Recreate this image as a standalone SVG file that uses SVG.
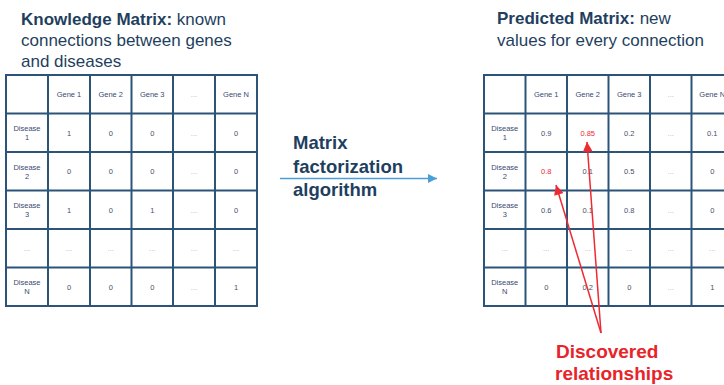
<svg xmlns="http://www.w3.org/2000/svg" width="724" height="385" viewBox="0 0 724 385">
  <style>
    .title { font-family: "Liberation Sans", Arial, sans-serif; font-size: 17px; fill: #1f3f60; }
    .b { font-weight: bold; }
    .grid { fill: #ffffff; stroke: #2b5478; stroke-width: 2; }
    .gl { stroke: #2b5478; stroke-width: 2; }
    .cell { font-family: "Liberation Sans", Arial, sans-serif; font-size: 7.5px; fill: #44506a; text-anchor: middle; }
    .hdr { fill: #3a4a72; }
    .dim { fill: #aab3bd; }
    .hot { fill: #ee2a33; }
    .algo { font-family: "Liberation Sans", Arial, sans-serif; font-size: 18.5px; font-weight: bold; fill: #1f3f60; }
    .note { font-family: "Liberation Sans", Arial, sans-serif; font-size: 19px; font-weight: bold; fill: #e8242a; }
    .flow { stroke: #4a9fd6; stroke-width: 1.5; fill: none; }
    .ptr { stroke: #ee2a33; stroke-width: 1.5; fill: none; }
  </style>
  <defs>
    <marker id="blueHead" viewBox="0 0 10 10" refX="10" refY="5" markerWidth="6" markerHeight="6" markerUnits="strokeWidth" orient="auto">
      <path d="M0,0 L10,5 L0,10 Z" fill="#4a9fd6"/>
    </marker>
    <marker id="redHead" viewBox="0 0 10 10" refX="10" refY="5" markerWidth="8" markerHeight="6.5" markerUnits="strokeWidth" orient="auto">
      <path d="M0,0 L10,5 L0,10 Z" fill="#ee2a33"/>
    </marker>
  </defs>

  <!-- Known gene/disease matrix -->
  <g id="knowledge-matrix">
    <text class="title" x="21" y="24.5"><tspan class="b">Knowledge Matrix:</tspan> known</text>
    <text class="title" x="21" y="46">connections between genes</text>
    <text class="title" x="21" y="67">and diseases</text>

    <rect class="grid" x="6" y="75" width="251" height="231"/>
    <g class="gl">
      <line x1="48" y1="75" x2="48" y2="306"/>
      <line x1="90" y1="75" x2="90" y2="306"/>
      <line x1="131.5" y1="75" x2="131.5" y2="306"/>
      <line x1="173" y1="75" x2="173" y2="306"/>
      <line x1="215" y1="75" x2="215" y2="306"/>
      <line x1="6" y1="113.5" x2="257" y2="113.5"/>
      <line x1="6" y1="152" x2="257" y2="152"/>
      <line x1="6" y1="190.5" x2="257" y2="190.5"/>
      <line x1="6" y1="229" x2="257" y2="229"/>
      <line x1="6" y1="267.5" x2="257" y2="267.5"/>
    </g>
    <!-- header row -->
    <text class="cell hdr" x="69" y="97">Gene 1</text>
    <text class="cell hdr" x="110.75" y="97">Gene 2</text>
    <text class="cell hdr" x="152.25" y="97">Gene 3</text>
    <text class="cell dim" x="194" y="97">...</text>
    <text class="cell hdr" x="236" y="97">Gene N</text>
    <!-- row labels -->
    <text class="cell hdr" x="27" y="131">Disease</text><text class="cell hdr" x="27" y="140">1</text>
    <text class="cell hdr" x="27" y="169.5">Disease</text><text class="cell hdr" x="27" y="178.5">2</text>
    <text class="cell hdr" x="27" y="208">Disease</text><text class="cell hdr" x="27" y="217">3</text>
    <text class="cell dim" x="27" y="251">...</text>
    <text class="cell hdr" x="27" y="285">Disease</text><text class="cell hdr" x="27" y="294">N</text>
    <!-- values -->
    <text class="cell" x="69" y="135.5">1</text><text class="cell" x="110.75" y="135.5">0</text><text class="cell" x="152.25" y="135.5">0</text><text class="cell dim" x="194" y="135.5">...</text><text class="cell" x="236" y="135.5">0</text>
    <text class="cell" x="69" y="174">0</text><text class="cell" x="110.75" y="174">0</text><text class="cell" x="152.25" y="174">0</text><text class="cell dim" x="194" y="174">...</text><text class="cell" x="236" y="174">0</text>
    <text class="cell" x="69" y="212.5">1</text><text class="cell" x="110.75" y="212.5">0</text><text class="cell" x="152.25" y="212.5">1</text><text class="cell dim" x="194" y="212.5">...</text><text class="cell" x="236" y="212.5">0</text>
    <text class="cell dim" x="69" y="251">...</text><text class="cell dim" x="110.75" y="251">...</text><text class="cell dim" x="152.25" y="251">...</text><text class="cell dim" x="194" y="251">...</text><text class="cell dim" x="236" y="251">...</text>
    <text class="cell" x="69" y="289.5">0</text><text class="cell" x="110.75" y="289.5">0</text><text class="cell" x="152.25" y="289.5">0</text><text class="cell dim" x="194" y="289.5">...</text><text class="cell" x="236" y="289.5">1</text>
  </g>

  <!-- Algorithm label -->
  <g id="algorithm">
    <text class="algo" x="293" y="149">Matrix</text>
    <text class="algo" x="293" y="173">factorization</text>
    <text class="algo" x="293" y="196">algorithm</text>
  </g>

  <!-- Predicted matrix (runs off the right edge) -->
  <g id="predicted-matrix">
    <text class="title" x="497" y="24"><tspan class="b">Predicted Matrix:</tspan> new</text>
    <text class="title" x="497" y="45.5">values for every connection</text>

    <rect class="grid" x="484" y="75" width="249" height="231"/>
    <g class="gl">
      <line x1="525.5" y1="75" x2="525.5" y2="306"/>
      <line x1="567" y1="75" x2="567" y2="306"/>
      <line x1="608.5" y1="75" x2="608.5" y2="306"/>
      <line x1="650" y1="75" x2="650" y2="306"/>
      <line x1="691.5" y1="75" x2="691.5" y2="306"/>
      <line x1="484" y1="113.5" x2="733" y2="113.5"/>
      <line x1="484" y1="152" x2="733" y2="152"/>
      <line x1="484" y1="190.5" x2="733" y2="190.5"/>
      <line x1="484" y1="229" x2="733" y2="229"/>
      <line x1="484" y1="267.5" x2="733" y2="267.5"/>
    </g>
    <text class="cell hdr" x="546.25" y="97">Gene 1</text>
    <text class="cell hdr" x="587.75" y="97">Gene 2</text>
    <text class="cell hdr" x="629.25" y="97">Gene 3</text>
    <text class="cell dim" x="670.75" y="97">...</text>
    <text class="cell hdr" x="712.25" y="97">Gene N</text>
    <text class="cell hdr" x="504.75" y="131">Disease</text><text class="cell hdr" x="504.75" y="140">1</text>
    <text class="cell hdr" x="504.75" y="169.5">Disease</text><text class="cell hdr" x="504.75" y="178.5">2</text>
    <text class="cell hdr" x="504.75" y="208">Disease</text><text class="cell hdr" x="504.75" y="217">3</text>
    <text class="cell dim" x="504.75" y="251">...</text>
    <text class="cell hdr" x="504.75" y="285">Disease</text><text class="cell hdr" x="504.75" y="294">N</text>
    <text class="cell" x="546.25" y="135.5">0.9</text><text class="cell hot" x="587.75" y="135.5">0.85</text><text class="cell" x="629.25" y="135.5">0.2</text><text class="cell dim" x="670.75" y="135.5">...</text><text class="cell" x="712.25" y="135.5">0.1</text>
    <text class="cell hot" x="546.25" y="174">0.8</text><text class="cell" x="587.75" y="174">0.1</text><text class="cell" x="629.25" y="174">0.5</text><text class="cell dim" x="670.75" y="174">...</text><text class="cell" x="712.25" y="174">0</text>
    <text class="cell" x="546.25" y="212.5">0.6</text><text class="cell" x="587.75" y="212.5">0.1</text><text class="cell" x="629.25" y="212.5">0.8</text><text class="cell dim" x="670.75" y="212.5">...</text><text class="cell" x="712.25" y="212.5">0</text>
    <text class="cell dim" x="546.25" y="251">...</text><text class="cell dim" x="587.75" y="251">...</text><text class="cell dim" x="629.25" y="251">...</text><text class="cell dim" x="670.75" y="251">...</text><text class="cell dim" x="712.25" y="251">...</text>
    <text class="cell" x="546.25" y="289.5">0</text><text class="cell" x="587.75" y="289.5">0.2</text><text class="cell" x="629.25" y="289.5">0</text><text class="cell dim" x="670.75" y="289.5">...</text><text class="cell" x="712.25" y="289.5">1</text>
  </g>

  <!-- Discovery callout -->
  <g id="discovered">
    <text class="note" x="556" y="358">Discovered</text>
    <text class="note" x="555" y="380">relationships</text>
  </g>

  <!-- Connectors -->
  <g id="connectors">
    <line class="flow" x1="280" y1="178.5" x2="437" y2="178.5" marker-end="url(#blueHead)"/>
    <line class="ptr" x1="601" y1="333" x2="587" y2="142" marker-end="url(#redHead)"/>
    <line class="ptr" x1="601" y1="333" x2="556" y2="185" marker-end="url(#redHead)"/>
  </g>
</svg>
